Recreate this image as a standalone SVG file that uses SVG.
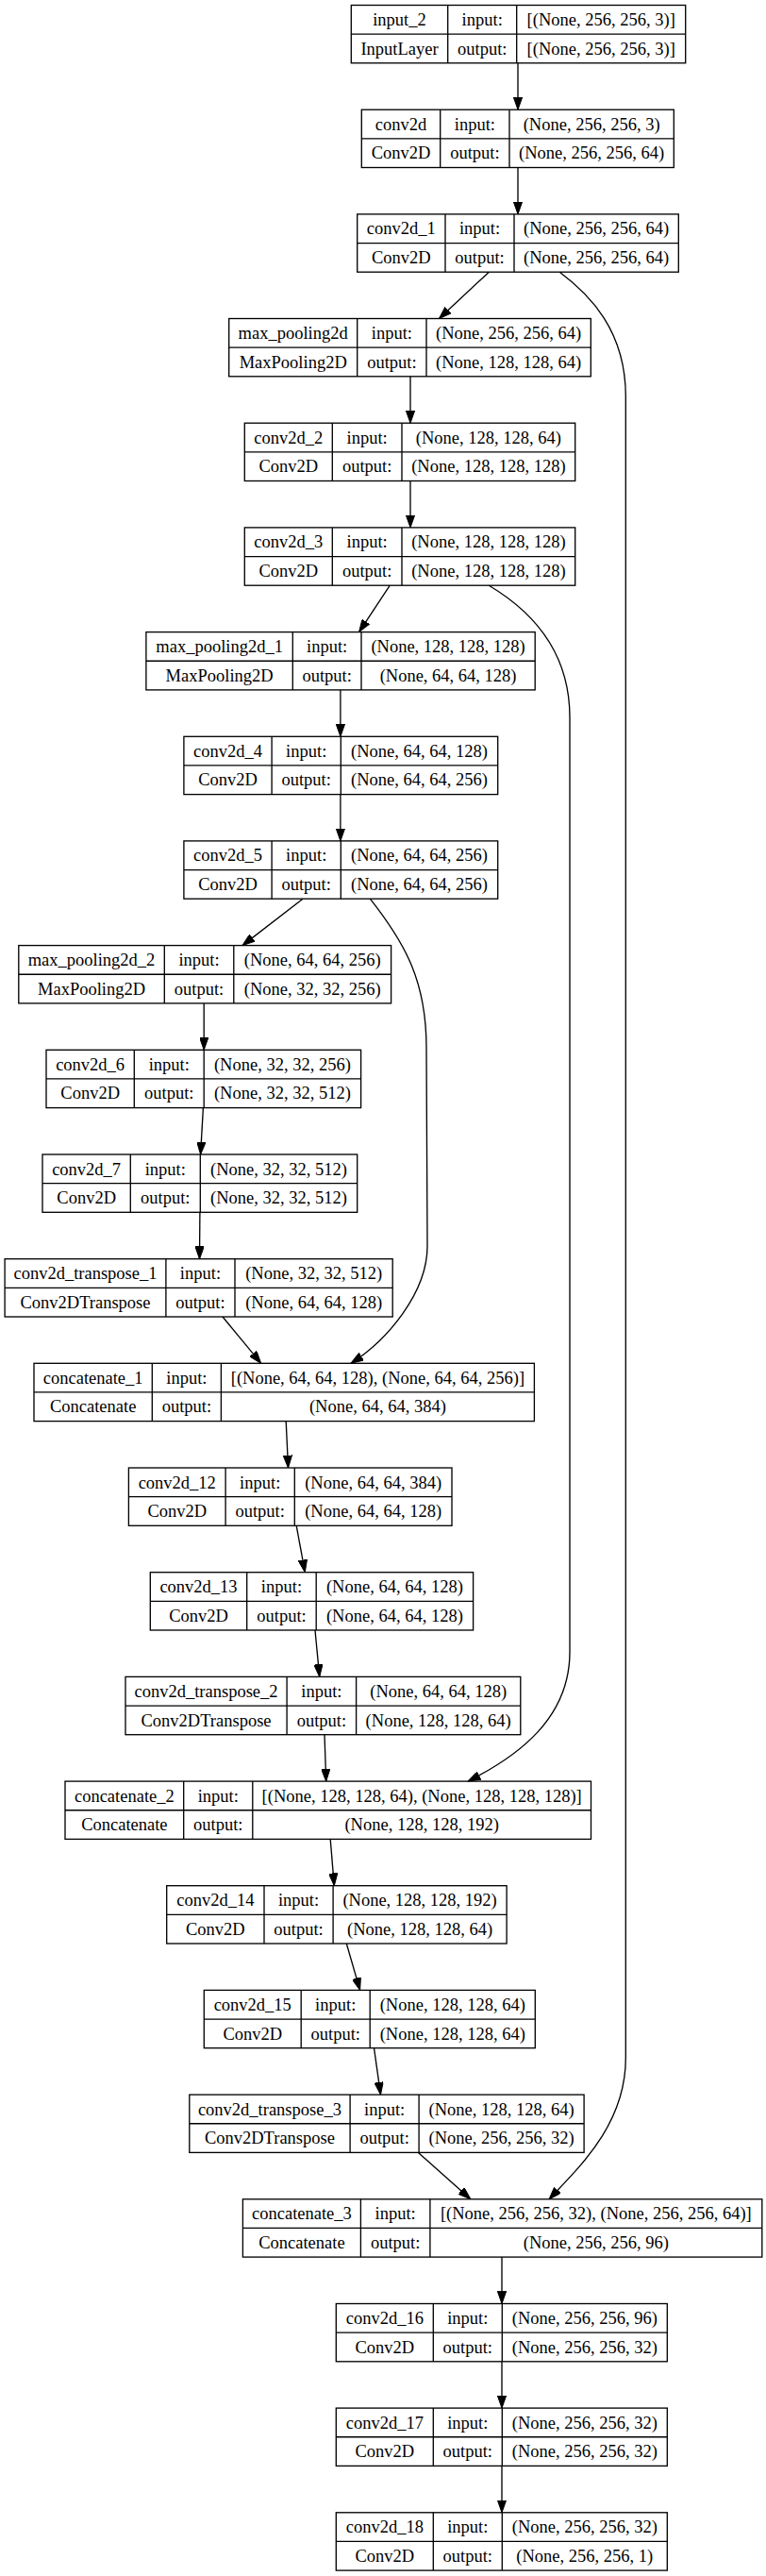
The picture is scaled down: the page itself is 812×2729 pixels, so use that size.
<svg xmlns="http://www.w3.org/2000/svg" width="812" height="2729" viewBox="0 0 812 2729">
<style>
.b{fill:none;stroke:#000;stroke-width:1.33}
.l{stroke:#000;stroke-width:1.33}
.e{fill:none;stroke:#000;stroke-width:1.33;marker-end:url(#ah)}
text{font-family:"Liberation Serif","Times New Roman",serif;font-size:18.5px;fill:#000;text-anchor:middle}
</style>
<defs>
<marker id="ah" markerUnits="userSpaceOnUse" viewBox="0 0 13.3 9.4" refX="13.3" refY="4.7" markerWidth="13.3" markerHeight="9.4" orient="auto">
<path d="M0,0 L13.3,4.7 L0,9.4 z" fill="#000" stroke="#000" stroke-width="1"/>
</marker>
</defs>
<rect x="0" y="0" width="812" height="2729" fill="#fff"/>
<g id="connectors">
<path class="e" d="M549,66.8 L549,116.2"/>
<path class="e" d="M549,177.5 L549,226.9"/>
<path class="e" d="M518.3,288.2 L465.5,337.5"/>
<path class="e" d="M593.3,288.2 C625,312 663.3,350 663.3,420 L663.3,2180 C663.3,2250 615,2295 582,2329.8"/>
<path class="e" d="M435,398.8 L435,448.2"/>
<path class="e" d="M435,509.5 L435,558.9"/>
<path class="e" d="M413.3,620.2 L380.6,669.6"/>
<path class="e" d="M518.3,620.2 C565,648 604,690 604,760 L604,1750 C604,1820 550,1860 496,1887.1"/>
<path class="e" d="M360.9,730.9 L360.9,780.3"/>
<path class="e" d="M360.9,841.6 L360.9,890.9"/>
<path class="e" d="M321,952.2 L257,1001.6"/>
<path class="e" d="M392.3,952.2 C430,1000 452,1040 452,1110 L453,1320 C453,1370 410,1420 372,1444.3"/>
<path class="e" d="M216.2,1062.9 L216.2,1112.3"/>
<path class="e" d="M215.4,1173.6 L212.6,1223"/>
<path class="e" d="M211.9,1284.3 L211.5,1333.7"/>
<path class="e" d="M236,1395 L276.7,1444.3"/>
<path class="e" d="M303.2,1505.6 L305.5,1555"/>
<path class="e" d="M314.2,1616.3 L323.3,1665.7"/>
<path class="e" d="M334,1727 L338.7,1776.4"/>
<path class="e" d="M344,1837.7 L345.7,1887.1"/>
<path class="e" d="M350.2,1948.4 L354.3,1997.7"/>
<path class="e" d="M367.3,2059 L381.6,2108.4"/>
<path class="e" d="M396.5,2169.7 L403.5,2219.1"/>
<path class="e" d="M443.4,2280.4 L498.8,2329.8"/>
<path class="e" d="M532,2391.1 L532,2440.5"/>
<path class="e" d="M532,2501.8 L532,2551.1"/>
<path class="e" d="M532,2612.4 L532,2661.8"/>
</g>
<g id="input_2" transform="translate(372.3,5.5)"><rect class="b" width="354.4" height="61.3"/><path class="l" d="M0,30.65H354.4M102.4,0V61.3M175.4,0V61.3"/><text x="51.2" y="21.6">input_2</text><text x="138.9" y="21.6">input:</text><text x="264.9" y="21.6">[(None, 256, 256, 3)]</text><text x="51.2" y="52.2">InputLayer</text><text x="138.9" y="52.2">output:</text><text x="264.9" y="52.2">[(None, 256, 256, 3)]</text></g>
<g id="conv2d" transform="translate(383.3,116.2)"><rect class="b" width="331" height="61.3"/><path class="l" d="M0,30.65H331M83.4,0V61.3M156.7,0V61.3"/><text x="41.7" y="21.6">conv2d</text><text x="120.05" y="21.6">input:</text><text x="243.85" y="21.6">(None, 256, 256, 3)</text><text x="41.7" y="52.2">Conv2D</text><text x="120.05" y="52.2">output:</text><text x="243.85" y="52.2">(None, 256, 256, 64)</text></g>
<g id="conv2d_1" transform="translate(378.7,226.9)"><rect class="b" width="340.6" height="61.3"/><path class="l" d="M0,30.65H340.6M93.3,0V61.3M166.3,0V61.3"/><text x="46.65" y="21.6">conv2d_1</text><text x="129.8" y="21.6">input:</text><text x="253.45" y="21.6">(None, 256, 256, 64)</text><text x="46.65" y="52.2">Conv2D</text><text x="129.8" y="52.2">output:</text><text x="253.45" y="52.2">(None, 256, 256, 64)</text></g>
<g id="max_pooling2d" transform="translate(242.7,337.5)"><rect class="b" width="383.6" height="61.3"/><path class="l" d="M0,30.65H383.6M136,0V61.3M209.3,0V61.3"/><text x="68" y="21.6">max_pooling2d</text><text x="172.65" y="21.6">input:</text><text x="296.45" y="21.6">(None, 256, 256, 64)</text><text x="68" y="52.2">MaxPooling2D</text><text x="172.65" y="52.2">output:</text><text x="296.45" y="52.2">(None, 128, 128, 64)</text></g>
<g id="conv2d_2" transform="translate(259.3,448.2)"><rect class="b" width="350.4" height="61.3"/><path class="l" d="M0,30.65H350.4M93,0V61.3M166.7,0V61.3"/><text x="46.5" y="21.6">conv2d_2</text><text x="129.85" y="21.6">input:</text><text x="258.55" y="21.6">(None, 128, 128, 64)</text><text x="46.5" y="52.2">Conv2D</text><text x="129.85" y="52.2">output:</text><text x="258.55" y="52.2">(None, 128, 128, 128)</text></g>
<g id="conv2d_3" transform="translate(259.3,558.9)"><rect class="b" width="350.4" height="61.3"/><path class="l" d="M0,30.65H350.4M93,0V61.3M166.7,0V61.3"/><text x="46.5" y="21.6">conv2d_3</text><text x="129.85" y="21.6">input:</text><text x="258.55" y="21.6">(None, 128, 128, 128)</text><text x="46.5" y="52.2">Conv2D</text><text x="129.85" y="52.2">output:</text><text x="258.55" y="52.2">(None, 128, 128, 128)</text></g>
<g id="max_pooling2d_1" transform="translate(154.9,669.6)"><rect class="b" width="412.3" height="61.3"/><path class="l" d="M0,30.65H412.3M155.4,0V61.3M228.1,0V61.3"/><text x="77.7" y="21.6">max_pooling2d_1</text><text x="191.75" y="21.6">input:</text><text x="320.2" y="21.6">(None, 128, 128, 128)</text><text x="77.7" y="52.2">MaxPooling2D</text><text x="191.75" y="52.2">output:</text><text x="320.2" y="52.2">(None, 64, 64, 128)</text></g>
<g id="conv2d_4" transform="translate(194.9,780.3)"><rect class="b" width="332.8" height="61.3"/><path class="l" d="M0,30.65H332.8M93.2,0V61.3M166.4,0V61.3"/><text x="46.6" y="21.6">conv2d_4</text><text x="129.8" y="21.6">input:</text><text x="249.6" y="21.6">(None, 64, 64, 128)</text><text x="46.6" y="52.2">Conv2D</text><text x="129.8" y="52.2">output:</text><text x="249.6" y="52.2">(None, 64, 64, 256)</text></g>
<g id="conv2d_5" transform="translate(194.9,890.9)"><rect class="b" width="332.8" height="61.3"/><path class="l" d="M0,30.65H332.8M93.2,0V61.3M166.4,0V61.3"/><text x="46.6" y="21.6">conv2d_5</text><text x="129.8" y="21.6">input:</text><text x="249.6" y="21.6">(None, 64, 64, 256)</text><text x="46.6" y="52.2">Conv2D</text><text x="129.8" y="52.2">output:</text><text x="249.6" y="52.2">(None, 64, 64, 256)</text></g>
<g id="max_pooling2d_2" transform="translate(19.8,1001.6)"><rect class="b" width="394.8" height="61.3"/><path class="l" d="M0,30.65H394.8M154.5,0V61.3M228,0V61.3"/><text x="77.25" y="21.6">max_pooling2d_2</text><text x="191.25" y="21.6">input:</text><text x="311.4" y="21.6">(None, 64, 64, 256)</text><text x="77.25" y="52.2">MaxPooling2D</text><text x="191.25" y="52.2">output:</text><text x="311.4" y="52.2">(None, 32, 32, 256)</text></g>
<g id="conv2d_6" transform="translate(49,1112.3)"><rect class="b" width="333.6" height="61.3"/><path class="l" d="M0,30.65H333.6M93.3,0V61.3M167.2,0V61.3"/><text x="46.65" y="21.6">conv2d_6</text><text x="130.25" y="21.6">input:</text><text x="250.4" y="21.6">(None, 32, 32, 256)</text><text x="46.65" y="52.2">Conv2D</text><text x="130.25" y="52.2">output:</text><text x="250.4" y="52.2">(None, 32, 32, 512)</text></g>
<g id="conv2d_7" transform="translate(45,1223)"><rect class="b" width="333.7" height="61.3"/><path class="l" d="M0,30.65H333.7M93.3,0V61.3M167.3,0V61.3"/><text x="46.65" y="21.6">conv2d_7</text><text x="130.3" y="21.6">input:</text><text x="250.5" y="21.6">(None, 32, 32, 512)</text><text x="46.65" y="52.2">Conv2D</text><text x="130.3" y="52.2">output:</text><text x="250.5" y="52.2">(None, 32, 32, 512)</text></g>
<g id="conv2d_transpose_1" transform="translate(5.1,1333.7)"><rect class="b" width="411.1" height="61.3"/><path class="l" d="M0,30.65H411.1M170.8,0V61.3M243.9,0V61.3"/><text x="85.4" y="21.6">conv2d_transpose_1</text><text x="207.35" y="21.6">input:</text><text x="327.5" y="21.6">(None, 32, 32, 512)</text><text x="85.4" y="52.2">Conv2DTranspose</text><text x="207.35" y="52.2">output:</text><text x="327.5" y="52.2">(None, 64, 64, 128)</text></g>
<g id="concatenate_1" transform="translate(36,1444.3)"><rect class="b" width="530.4" height="61.3"/><path class="l" d="M0,30.65H530.4M125.3,0V61.3M198.4,0V61.3"/><text x="62.65" y="21.6">concatenate_1</text><text x="161.85" y="21.6">input:</text><text x="364.4" y="21.6">[(None, 64, 64, 128), (None, 64, 64, 256)]</text><text x="62.65" y="52.2">Concatenate</text><text x="161.85" y="52.2">output:</text><text x="364.4" y="52.2">(None, 64, 64, 384)</text></g>
<g id="conv2d_12" transform="translate(136.4,1555)"><rect class="b" width="342.6" height="61.3"/><path class="l" d="M0,30.65H342.6M102.7,0V61.3M175.9,0V61.3"/><text x="51.35" y="21.6">conv2d_12</text><text x="139.3" y="21.6">input:</text><text x="259.25" y="21.6">(None, 64, 64, 384)</text><text x="51.35" y="52.2">Conv2D</text><text x="139.3" y="52.2">output:</text><text x="259.25" y="52.2">(None, 64, 64, 128)</text></g>
<g id="conv2d_13" transform="translate(159.3,1665.7)"><rect class="b" width="342.3" height="61.3"/><path class="l" d="M0,30.65H342.3M102.4,0V61.3M175.9,0V61.3"/><text x="51.2" y="21.6">conv2d_13</text><text x="139.15" y="21.6">input:</text><text x="259.1" y="21.6">(None, 64, 64, 128)</text><text x="51.2" y="52.2">Conv2D</text><text x="139.15" y="52.2">output:</text><text x="259.1" y="52.2">(None, 64, 64, 128)</text></g>
<g id="conv2d_transpose_2" transform="translate(133,1776.4)"><rect class="b" width="418.8" height="61.3"/><path class="l" d="M0,30.65H418.8M171.1,0V61.3M244.6,0V61.3"/><text x="85.55" y="21.6">conv2d_transpose_2</text><text x="207.85" y="21.6">input:</text><text x="331.7" y="21.6">(None, 64, 64, 128)</text><text x="85.55" y="52.2">Conv2DTranspose</text><text x="207.85" y="52.2">output:</text><text x="331.7" y="52.2">(None, 128, 128, 64)</text></g>
<g id="concatenate_2" transform="translate(69,1887.1)"><rect class="b" width="557.5" height="61.3"/><path class="l" d="M0,30.65H557.5M125.7,0V61.3M198.8,0V61.3"/><text x="62.85" y="21.6">concatenate_2</text><text x="162.25" y="21.6">input:</text><text x="378.15" y="21.6">[(None, 128, 128, 64), (None, 128, 128, 128)]</text><text x="62.85" y="52.2">Concatenate</text><text x="162.25" y="52.2">output:</text><text x="378.15" y="52.2">(None, 128, 128, 192)</text></g>
<g id="conv2d_14" transform="translate(176.7,1997.7)"><rect class="b" width="360.4" height="61.3"/><path class="l" d="M0,30.65H360.4M103.3,0V61.3M176.4,0V61.3"/><text x="51.65" y="21.6">conv2d_14</text><text x="139.85" y="21.6">input:</text><text x="268.4" y="21.6">(None, 128, 128, 192)</text><text x="51.65" y="52.2">Conv2D</text><text x="139.85" y="52.2">output:</text><text x="268.4" y="52.2">(None, 128, 128, 64)</text></g>
<g id="conv2d_15" transform="translate(216.3,2108.4)"><rect class="b" width="351" height="61.3"/><path class="l" d="M0,30.65H351M102.9,0V61.3M175.9,0V61.3"/><text x="51.45" y="21.6">conv2d_15</text><text x="139.4" y="21.6">input:</text><text x="263.45" y="21.6">(None, 128, 128, 64)</text><text x="51.45" y="52.2">Conv2D</text><text x="139.4" y="52.2">output:</text><text x="263.45" y="52.2">(None, 128, 128, 64)</text></g>
<g id="conv2d_transpose_3" transform="translate(200.8,2219.1)"><rect class="b" width="418.3" height="61.3"/><path class="l" d="M0,30.65H418.3M170.3,0V61.3M243.3,0V61.3"/><text x="85.15" y="21.6">conv2d_transpose_3</text><text x="206.8" y="21.6">input:</text><text x="330.8" y="21.6">(None, 128, 128, 64)</text><text x="85.15" y="52.2">Conv2DTranspose</text><text x="206.8" y="52.2">output:</text><text x="330.8" y="52.2">(None, 256, 256, 32)</text></g>
<g id="concatenate_3" transform="translate(257.4,2329.8)"><rect class="b" width="550.4" height="61.3"/><path class="l" d="M0,30.65H550.4M125,0V61.3M198.5,0V61.3"/><text x="62.5" y="21.6">concatenate_3</text><text x="161.75" y="21.6">input:</text><text x="374.45" y="21.6">[(None, 256, 256, 32), (None, 256, 256, 64)]</text><text x="62.5" y="52.2">Concatenate</text><text x="161.75" y="52.2">output:</text><text x="374.45" y="52.2">(None, 256, 256, 96)</text></g>
<g id="conv2d_16" transform="translate(356.3,2440.5)"><rect class="b" width="351" height="61.3"/><path class="l" d="M0,30.65H351M103,0V61.3M176,0V61.3"/><text x="51.5" y="21.6">conv2d_16</text><text x="139.5" y="21.6">input:</text><text x="263.5" y="21.6">(None, 256, 256, 96)</text><text x="51.5" y="52.2">Conv2D</text><text x="139.5" y="52.2">output:</text><text x="263.5" y="52.2">(None, 256, 256, 32)</text></g>
<g id="conv2d_17" transform="translate(356.3,2551.1)"><rect class="b" width="351" height="61.3"/><path class="l" d="M0,30.65H351M103,0V61.3M176,0V61.3"/><text x="51.5" y="21.6">conv2d_17</text><text x="139.5" y="21.6">input:</text><text x="263.5" y="21.6">(None, 256, 256, 32)</text><text x="51.5" y="52.2">Conv2D</text><text x="139.5" y="52.2">output:</text><text x="263.5" y="52.2">(None, 256, 256, 32)</text></g>
<g id="conv2d_18" transform="translate(356.3,2661.8)"><rect class="b" width="351" height="61.3"/><path class="l" d="M0,30.65H351M103,0V61.3M176,0V61.3"/><text x="51.5" y="21.6">conv2d_18</text><text x="139.5" y="21.6">input:</text><text x="263.5" y="21.6">(None, 256, 256, 32)</text><text x="51.5" y="52.2">Conv2D</text><text x="139.5" y="52.2">output:</text><text x="263.5" y="52.2">(None, 256, 256, 1)</text></g>
</svg>
